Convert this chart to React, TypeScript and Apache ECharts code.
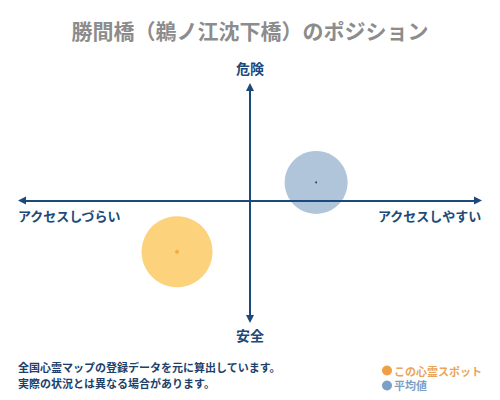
import React, { useEffect, useRef } from "react";
import * as echarts from "echarts";

const titleText = "勝間橋（鵜ノ江沈下橋）のポジション";
const seriesNames = ["この心霊スポット", "平均値"];
// [access (x), danger (y)]
const spotPoint = [-3.2, -5.1];
const averagePoint = [2.9, 1.8];
const spotSize = 71;
const averageSize = 63;
const axisLabels = { top: "危険", bottom: "安全", left: "アクセスしづらい", right: "アクセスしやすい" };
const noteLines = ["全国心霊マップの登録データを元に算出しています。", "実際の状況とは異なる場合があります。"];

const NAVY = "#1b4a7a";
const FONT = "'Noto Sans CJK JP', sans-serif";

export default function App() {
  const ref = useRef<HTMLDivElement>(null);
  useEffect(() => {
    document.body.style.margin = "0";
    if (!ref.current) return;
    const chart = echarts.init(ref.current, null, { renderer: "svg" });
    chart.setOption({
      animation: false,
      backgroundColor: "#ffffff",
      textStyle: { fontFamily: FONT },
      title: {
        text: titleText,
        left: "center",
        top: 14,
        textStyle: { color: "#8c8c8c", fontSize: 21, fontWeight: "bold", fontFamily: FONT },
      },
      grid: { left: 22, right: 22, top: 87, bottom: 81 },
      xAxis: {
        type: "value",
        min: -10,
        max: 10,
        z: 5,
        splitLine: { show: false },
        axisTick: { show: false },
        axisLabel: { show: false },
        axisLine: {
          onZero: true,
          symbol: ["triangle", "triangle"],
          symbolSize: [8, 8],
          lineStyle: { color: NAVY, width: 2 },
        },
      },
      yAxis: {
        type: "value",
        min: -11.8,
        max: 11.3,
        z: 5,
        splitLine: { show: false },
        axisTick: { show: false },
        axisLabel: { show: false },
        axisLine: {
          onZero: true,
          symbol: ["triangle", "triangle"],
          symbolSize: [8, 8],
          lineStyle: { color: NAVY, width: 2 },
        },
      },
      legend: {
        orient: "vertical",
        left: 377,
        top: 360,
        itemGap: 4,
        itemWidth: 10,
        itemHeight: 10,
        icon: "circle",
        data: [
          { name: seriesNames[0], itemStyle: { color: "#f0a040" }, textStyle: { color: "#e9a55a" } },
          { name: seriesNames[1], itemStyle: { color: "#7aa0c8" }, textStyle: { color: "#7d9fc5" } },
        ],
        textStyle: { fontSize: 11, fontWeight: "bold", fontFamily: FONT, padding: [0, 0, 0, -3] },
      },
      series: [
        {
          name: seriesNames[0],
          type: "scatter",
          data: [spotPoint],
          symbolSize: spotSize,
          itemStyle: { color: "#fdd27c", opacity: 1 },
          z: 2,
        },
        {
          name: seriesNames[1],
          type: "scatter",
          data: [averagePoint],
          symbolSize: averageSize,
          itemStyle: { color: "#b0c4da", opacity: 1 },
          z: 2,
        },
        {
          name: "spotCenter",
          type: "scatter",
          data: [spotPoint],
          symbolSize: 4,
          silent: true,
          itemStyle: { color: "#f3a42a" },
          z: 3,
        },
        {
          name: "averageCenter",
          type: "scatter",
          data: [averagePoint],
          symbolSize: 2,
          silent: true,
          itemStyle: { color: "#1b2f4a" },
          z: 3,
        },
      ],
      graphic: [
        {
          type: "text",
          left: "center",
          top: 61,
          style: { text: axisLabels.top, fill: NAVY, fontSize: 14, fontWeight: "bold", fontFamily: FONT },
        },
        {
          type: "text",
          left: "center",
          top: 328,
          style: { text: axisLabels.bottom, fill: NAVY, fontSize: 14, fontWeight: "bold", fontFamily: FONT },
        },
        {
          type: "text",
          left: 18,
          top: 209,
          style: { text: axisLabels.left, fill: NAVY, fontSize: 13, fontWeight: "bold", fontFamily: FONT },
        },
        {
          type: "text",
          right: 18,
          top: 209,
          style: { text: axisLabels.right, fill: NAVY, fontSize: 13, fontWeight: "bold", fontFamily: FONT },
        },
        {
          type: "text",
          left: 18,
          top: 361,
          style: { text: noteLines[0], fill: "#1d3f6a", fontSize: 11, fontWeight: "bold", fontFamily: FONT },
        },
        {
          type: "text",
          left: 18,
          top: 377,
          style: { text: noteLines[1], fill: "#1d3f6a", fontSize: 11, fontWeight: "bold", fontFamily: FONT },
        },
      ],
    });
    return () => chart.dispose();
  }, []);
  return <div ref={ref} style={{ width: 500, height: 400 }} />;
}
